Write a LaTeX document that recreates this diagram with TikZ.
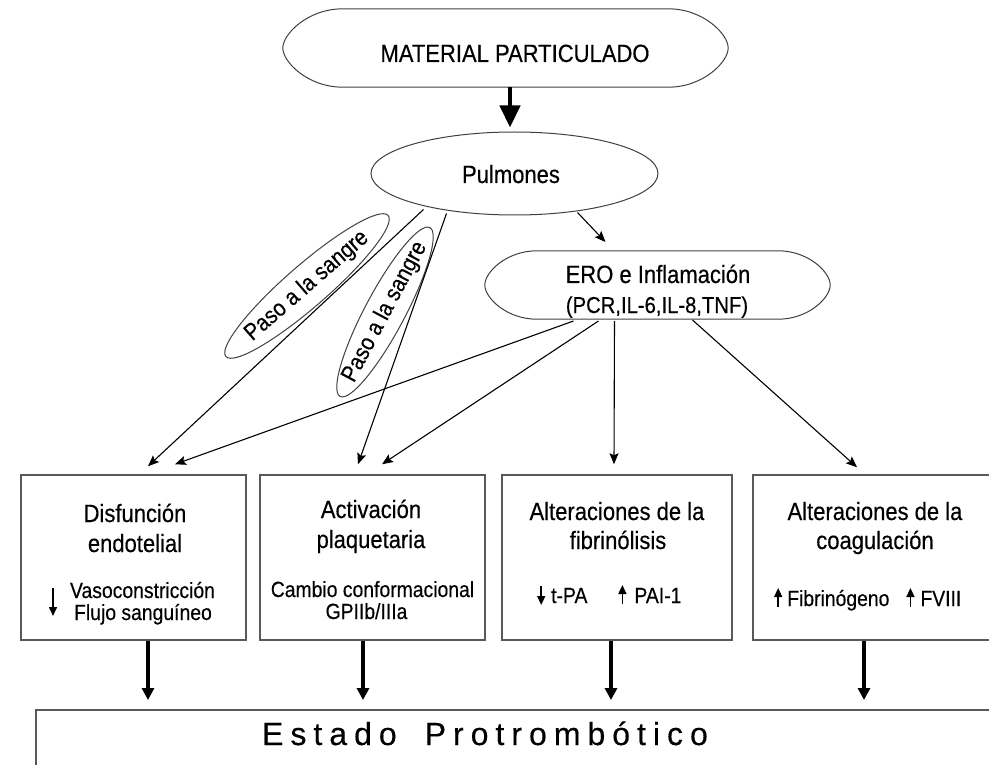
\documentclass[tikz,border=0pt]{standalone}
\usepackage{fontspec}
\setmainfont{Liberation Sans}[FakeStretch=0.88,FakeBold=0.35]
\newfontfamily\widefont{Liberation Sans}[FakeBold=0.35]
\usetikzlibrary{shapes.geometric,arrows.meta,calc}
\newcommand\uparr{\tikz[baseline=0pt]\draw[line width=1.6pt,-{Triangle[length=9pt,width=8pt]}] (0pt,-1pt) -- (0pt,18pt);}
\newcommand\dnarr{\tikz[baseline=0pt]\draw[line width=1.6pt,-{Triangle[length=9pt,width=8pt]}] (0pt,17pt) -- (0pt,-2pt);}
\newcommand\dnlong{\tikz\draw[line width=1.6pt,-{Triangle[length=9pt,width=8pt]}] (0pt,28pt) -- (0pt,0pt);}
\begin{document}
\begin{tikzpicture}[x=1pt,y=-1pt,
  big/.style={font=\fontsize{25}{29}\selectfont, inner sep=0pt},
  small/.style={font=\fontsize{22}{24}\selectfont, inner sep=0pt},
  shapeline/.style={draw=black!75, line width=1pt, inner sep=0pt},
  boxline/.style={draw=black!65, line width=1.5pt, inner sep=0pt},
  pasobox/.style={ellipse, draw=black!75, line width=1pt, inner sep=-10pt, font=\fontsize{23.5}{26}\selectfont},
  thinarrow/.style={draw=black, line width=1.1pt, -{Stealth[length=11pt,width=9pt,inset=2pt]}},
  thickarrow/.style={draw=black, line width=3.2pt, -{Triangle[length=12pt,width=12pt]}},
  toparrow/.style={draw=black, line width=4.5pt, -{Triangle[length=22pt,width=20pt]}},
]
\useasboundingbox (0,0) rectangle (989,765);
\clip (0,0) rectangle (989,765);

% top shapes
\node[inner sep=0pt, minimum width=445pt, minimum height=78pt] (mat) at (505.5,48) {};
\draw[shapeline] (mat.west)
  .. controls ($(mat.west)+(0,-14)$) and ($(mat.north west)+(25,0)$) .. ($(mat.north west)+(60,0)$)
  -- ($(mat.north east)+(-60,0)$)
  .. controls ($(mat.north east)+(-25,0)$) and ($(mat.east)+(0,-14)$) .. (mat.east)
  .. controls ($(mat.east)+(0,14)$) and ($(mat.south east)+(-25,0)$) .. ($(mat.south east)+(-60,0)$)
  -- ($(mat.south west)+(60,0)$)
  .. controls ($(mat.south west)+(25,0)$) and ($(mat.west)+(0,14)$) .. (mat.west);
\node[big, anchor=base] (matt) at (515,62) {MATERIAL PARTICULADO};

\node[ellipse, shapeline, minimum width=287pt, minimum height=83pt] (pul) at (514.5,173.5) {};
\node[big, anchor=base] (pult) at (511,183) {Pulmones};

\node[inner sep=0pt, minimum width=345pt, minimum height=68pt] (ero) at (657.5,285) {};
\draw[shapeline] (ero.west)
  .. controls ($(ero.west)+(0,-13)$) and ($(ero.north west)+(22,0)$) .. ($(ero.north west)+(52,0)$)
  -- ($(ero.north east)+(-52,0)$)
  .. controls ($(ero.north east)+(-22,0)$) and ($(ero.east)+(0,-13)$) .. (ero.east)
  .. controls ($(ero.east)+(0,13)$) and ($(ero.south east)+(-22,0)$) .. ($(ero.south east)+(-52,0)$)
  -- ($(ero.south west)+(52,0)$)
  .. controls ($(ero.south west)+(22,0)$) and ($(ero.west)+(0,13)$) .. (ero.west);
\node[big, anchor=base] (erot1) at (658,283) {ERO e Inflamación};
\node[font=\fontsize{23}{27}\selectfont, inner sep=0pt, anchor=base] (erot2) at (657,313) {(PCR,IL-6,IL-8,TNF)};

% Paso a la sangre ellipses
\node[pasobox, rotate=41, minimum width=215pt, minimum height=42pt] (paso1) at (307,286) {Paso a la sangre};
\node[pasobox, rotate=62, minimum width=186pt, minimum height=40pt] (paso2) at (385,312) {Paso a la sangre};

% boxes
\node[boxline, minimum width=225pt, minimum height=165pt] (dis) at (133.5,557.5) {};
\node[boxline, minimum width=225pt, minimum height=165pt] (act) at (372.5,557.5) {};
\node[boxline, minimum width=230pt, minimum height=165pt] (fib) at (617,557.5) {};
\node[boxline, minimum width=244pt, minimum height=165pt] (coag) at (875,557.5) {};

% box texts
\node[big, anchor=base] (dis1) at (135,522) {Disfunción};
\node[big, anchor=base] (dis2) at (135,552) {endotelial};
\node[small, anchor=base] (dis3) at (142.5,598) {Vasoconstricción};
\node[small, anchor=base] (dis4) at (143,620) {Flujo sanguíneo};
\node[inner sep=0pt] (disarr) at (53,602) {\dnlong};

\node[big, anchor=base] (act1) at (371,518) {Activación};
\node[big, anchor=base] (act2) at (371,548) {plaquetaria};
\node[small, anchor=base] (act3) at (372.5,597) {Cambio conformacional};
\node[small, anchor=base] (act4) at (366.5,619) {GPIIb/IIIa};

\node[big, anchor=base] (fib1) at (617,520) {Alteraciones de la};
\node[big, anchor=base] (fib2) at (618,549) {fibrinólisis};
\node[small, anchor=base west] (fib3) at (537,603) {\dnarr\hspace{6pt}t-PA\hspace{31pt}\uparr\hspace{8pt}PAI-1};

\node[big, anchor=base] (coag1) at (875,520) {Alteraciones de la};
\node[big, anchor=base] (coag2) at (875,549) {coagulación};
\node[small, anchor=base west] (coag3) at (774,606) {\uparr\hspace{5pt}Fibrinógeno\hspace{17pt}\uparr\hspace{6pt}FVIII};

% Estado box
\node[draw=black!65, line width=2pt, inner sep=0pt, minimum width=965pt, minimum height=91pt,
      anchor=north west] (est) at (35,709) {};
\node[font=\widefont\fontsize{32}{36}\selectfont, inner sep=0pt, anchor=base] (estt) at (485,745)
  {\spaceskip=7pt\relax E s t a d o\hspace{28pt}P r o t r o m b ó t i c o};

% connectors
\draw[toparrow] ($(mat.center)+(4.5,39)$) -- ($(pul.center)+(-4.5,-46)$);
\draw[thinarrow] ($(pul.center)+(-91,36)$) -- ($(dis.north)+(14.5,-8)$);
\draw[thinarrow] ($(pul.center)+(-68,40)$) -- ($(act.north)+(-14.5,-10)$);
\draw[thinarrow] ($(pul.center)+(63,39)$) -- ($(ero.center)+(-52,-43)$);
\draw[thinarrow] ($(ero.center)+(-84,36)$) -- ($(dis.north)+(41.5,-10)$);
\draw[thinarrow] ($(ero.center)+(-59,36)$) -- ($(act.north)+(9.5,-10)$);
\draw[thinarrow] ($(ero.center)+(-43,36)$) -- ($(fib.north)+(-3,-10)$);
\draw[thinarrow] ($(ero.center)+(35,35)$) -- ($(coag.north)+(-18,-7)$);

\draw[thickarrow, shorten >=9pt] ([xshift=14.5pt]dis.south) -- ([xshift=14.5pt]dis.south |- est.north);
\draw[thickarrow, shorten >=9pt] ([xshift=-9.5pt]act.south) -- ([xshift=-9.5pt]act.south |- est.north);
\draw[thickarrow, shorten >=9pt] ([xshift=-6pt]fib.south) -- ([xshift=-6pt]fib.south |- est.north);
\draw[thickarrow, shorten >=9pt] ([xshift=-11pt]coag.south) -- ([xshift=-11pt]coag.south |- est.north);
\end{tikzpicture}
\end{document}
